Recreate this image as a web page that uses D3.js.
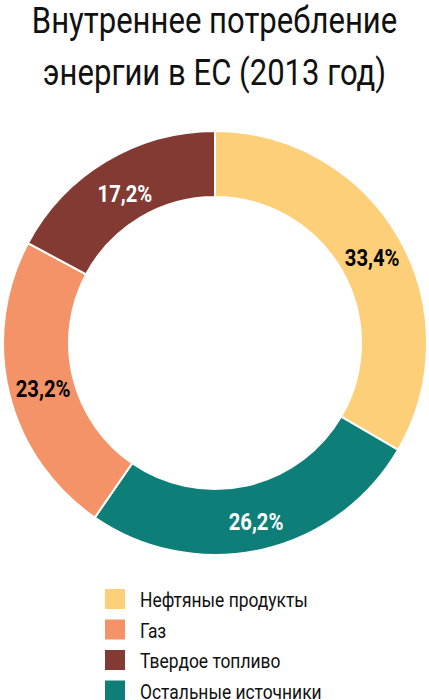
<!DOCTYPE html>
<head>
  <meta charset="utf-8">
  <script src="https://d3js.org/d3.v7.min.js"></script>
  <style>
    body { margin: 0; background: #fff; }
    svg { width: 429px; height: 700px; display: block; }
    text { font-family: Roboto, "Noto Sans", sans-serif; }
  </style>
</head>

<body>
  <svg></svg>

  <script>
    const width = 429;
    const height = 700;

    // data
    const categories = ['Нефтяные продукты', 'Остальные источники', 'Газ', 'Твердое топливо'];
    const shares = [33.4, 26.2, 23.2, 17.2];
    const labels = ['33,4%', '26,2%', '23,2%', '17,2%'];
    const colors = ['#fdcf79', '#0e7f78', '#f59368', '#823a33'];
    const labelColors = ['#000', '#fff', '#000', '#fff'];
    const legendOrder = ['Нефтяные продукты', 'Газ', 'Твердое топливо', 'Остальные источники'];
    const titleLines = ['Внутреннее потребление', 'энергии в ЕС (2013 год)'];

    const svg = d3.select('svg');

    /*****************************************************
    ** title  (horizontal squeeze fakes a condensed face)
    ******************************************************/
    svg.selectAll('.title')
      .data(titleLines).enter().append('text')
      .attr('class', 'title')
      .attr('transform', (d, i) => `translate(${width / 2}, ${33 + i * 52}) scale(0.84, 1)`)
      .attr('text-anchor', 'middle')
      .attr('font-size', 37)
      .attr('fill', '#111')
      .text(d => d);

    /*****************************************************
    ** donut
    ******************************************************/
    const cx = 215, cy = 343;
    const outerR = 212, innerR = 146;

    const slices = categories.map((c, i) => ({
      name: c, value: shares[i], label: labels[i], color: colors[i], labelColor: labelColors[i]
    }));

    const pie = d3.pie().sort(null).value(d => d.value);
    const arc = d3.arc().innerRadius(innerR).outerRadius(outerR);

    const g = svg.append('g').attr('transform', `translate(${cx}, ${cy})`);

    g.selectAll('path')
      .data(pie(slices)).enter().append('path')
      .attr('d', arc)
      .attr('fill', d => d.data.color)
      .attr('stroke', '#fff')
      .attr('stroke-width', 2);

    g.selectAll('.lbl')
      .data(pie(slices)).enter().append('text')
      .attr('class', 'lbl')
      .attr('transform', d => {
        const [x, y] = arc.centroid(d);
        return `translate(${x + 2}, ${y + 4}) scale(0.88, 1)`;
      })
      .attr('dy', '0.35em')
      .attr('text-anchor', 'middle')
      .attr('font-size', 23)
      .attr('font-weight', 'bold')
      .attr('fill', d => d.data.labelColor)
      .text(d => d.data.label);

    /*****************************************************
    ** legend
    ******************************************************/
    const legend = svg.selectAll('.leg')
      .data(legendOrder).enter().append('g')
      .attr('class', 'leg')
      .attr('transform', (d, i) => `translate(105, ${589 + i * 30.5})`);

    legend.append('rect')
      .attr('width', 20).attr('height', 20)
      .attr('fill', d => colors[categories.indexOf(d)]);

    legend.append('text')
      .attr('transform', `translate(35, 18) scale(0.83, 1)`)
      .attr('font-size', 21)
      .attr('fill', '#111')
      .text(d => d);
  </script>
</body>
